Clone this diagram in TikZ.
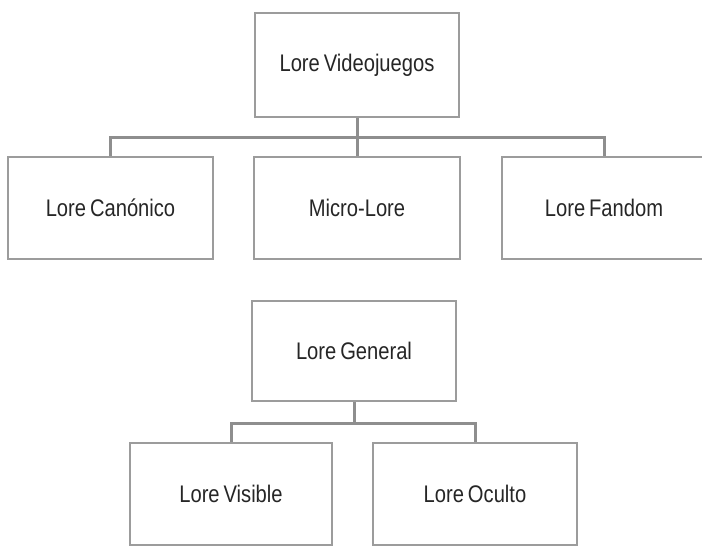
\documentclass[tikz,border=0pt]{standalone}
\usepackage{fontspec}
\setmainfont{Liberation Sans}[FakeStretch=0.84,WordSpace=0.7]
\begin{document}
\begin{tikzpicture}[x=1pt,y=-1pt,
  box/.style={draw=boxgray,line width=2.6pt,fill=white,minimum width=204pt,minimum height=102pt,inner sep=0pt,
    font=\fontsize{24}{28}\selectfont,text=black!85},
  conn/.style={draw=linegray,line width=3pt}]
\definecolor{boxgray}{HTML}{9C9C9C}
\definecolor{linegray}{HTML}{8E8E8E}
\useasboundingbox (0,0) rectangle (702,546);
% top tree
\node[box,minimum height=104pt] (lv) at (357,65) {Lore Videojuegos};
\node[box,minimum width=205pt] (lc) at (110.5,208) {Lore Canónico};
\node[box,minimum width=206pt] (ml) at (357,208) {Micro-Lore};
\node[box] (lf) at (604,208) {Lore Fandom};
\coordinate (bus1) at (357,137);
\draw[conn] (lv.south) -- (bus1);
\draw[conn] (lc.north) |- (bus1) -| (lf.north);
\draw[conn] (bus1) -- (ml.north);
% bottom tree
\node[box,minimum height=100pt] (lg) at (354,351) {Lore General};
\node[box,minimum width=202pt] (lvi) at (231,494) {Lore Visible};
\node[box] (lo) at (475,494) {Lore Oculto};
\coordinate (bus2) at (354,423);
\draw[conn] (lg.south) -- (bus2);
\draw[conn] (lvi.north) |- (bus2) -| (lo.north);
\end{tikzpicture}
\end{document}
